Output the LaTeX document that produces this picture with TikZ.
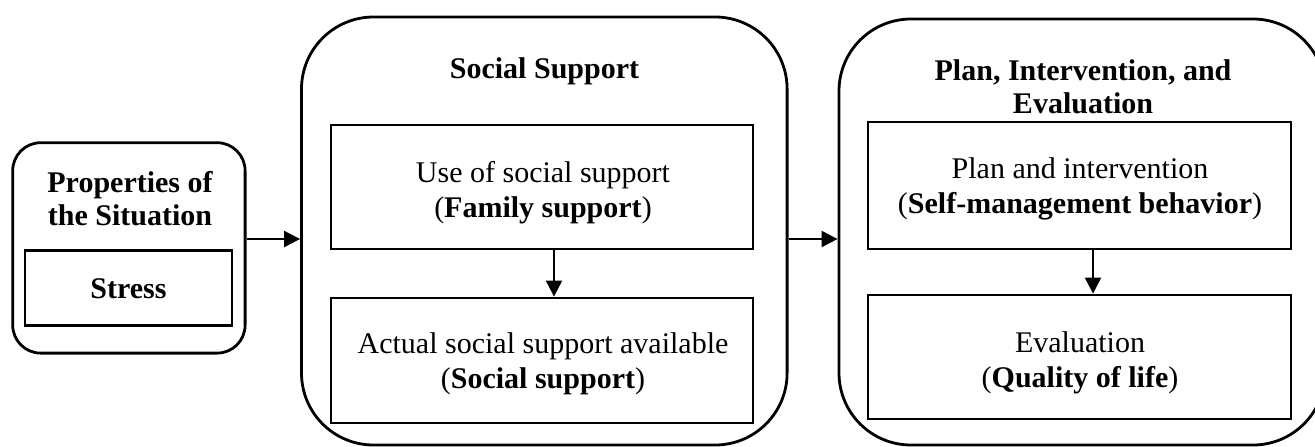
\documentclass[tikz,border=0pt]{standalone}
\usepackage{fontspec}
\setmainfont{Liberation Serif}
\usepackage{tikz}
\usetikzlibrary{arrows.meta}
\usetikzlibrary{calc}

\tikzset{
    group/.style={draw,line width=1.4pt,rounded corners=36pt,inner sep=0pt},
    inbox/.style={draw,line width=1.4pt,inner sep=0pt},
    txt/.style={align=center,inner sep=0pt,font=\fontsize{15}{17.5}\selectfont},
    arr/.style={line width=1pt,-{Triangle[length=8pt,width=8pt]}}
}

\begin{document}
\begin{tikzpicture}[x=0.5pt,y=-0.5pt]
    \useasboundingbox (0,0) rectangle (1315,446);

    % outer groups
    \node[group,rounded corners=14pt,minimum width=116.2pt,minimum height=105.2pt] (sit) at (128.9,247.9) {};
    \node[group,minimum width=242.8pt,minimum height=214pt] (soc) at (544.3,231) {};
    \node[group,minimum width=243pt,minimum height=213pt] (pie) at (1082,232) {};

    % inner boxes
    \node[inbox,minimum width=103.5pt,minimum height=37.2pt] (stress) at (128.5,288) {};
    \node[inbox,minimum width=211pt,minimum height=62pt] (use) at (542,187) {};
    \node[inbox,minimum width=211pt,minimum height=62.5pt] (act) at (542,360.5) {};
    \node[inbox,minimum width=211.5pt,minimum height=63.5pt] (plan) at (1079.5,185.5) {};
    \node[inbox,minimum width=211.5pt,minimum height=62pt] (eval) at (1079.5,357) {};

    % titles (base = last line)
    \node[txt,anchor=base,font=\fontsize{15}{16.5}\selectfont\bfseries] (sittitle) at (130,225) {Properties of\\the Situation};
    \node[txt,anchor=base,font=\fontsize{15}{16.5}\selectfont\bfseries] (soctitle) at (544.5,78) {Social Support};
    \node[txt,anchor=base,font=\fontsize{15}{16.5}\selectfont\bfseries] (pietitle) at (1083,113) {Plan, Intervention, and\\Evaluation};

    % box texts
    \node[txt,anchor=base,font=\fontsize{15}{16.5}\selectfont\bfseries] (stresstxt) at (128.5,298) {Stress};
    \node[txt,anchor=base] (usetxt) at (543,217) {Use of social support\\(\textbf{Family support})};
    \node[txt,anchor=base] (acttxt) at (543,388) {Actual social support available\\(\textbf{Social support})};
    \node[txt,anchor=base] (plantxt) at (1080,213) {Plan and intervention\\(\textbf{Self-management behavior})};
    \node[txt,anchor=base] (evaltxt) at (1080,387) {Evaluation\\(\textbf{Quality of life})};

    % connectors
    \coordinate (ay) at (0,239);
    \coordinate (ax1) at (554,0);
    \coordinate (ax2) at (1093,0);
    \draw[arr] (sit.east |- ay) -- (soc.west |- ay);
    \draw[arr] (soc.east |- ay) -- (pie.west |- ay);
    \draw[arr] (use.south -| ax1) -- (act.north -| ax1);
    \draw[arr] (plan.south -| ax2) -- (eval.north -| ax2);
\end{tikzpicture}
\end{document}
